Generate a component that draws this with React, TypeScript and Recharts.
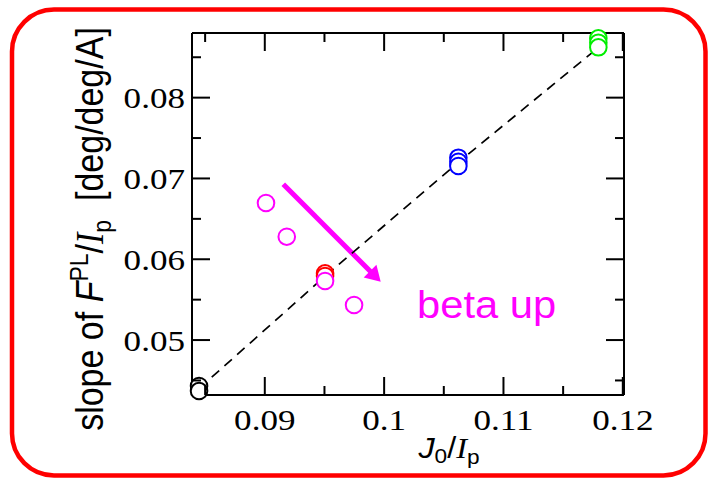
import React from "react";
import { ScatterChart, Scatter, XAxis, YAxis, ReferenceLine } from "recharts";

// Measured groups: x = J0/Ip, y = slope of F^PL/Ip
const blackPts = [
  { x: 0.08449, y: 0.04431 },
  { x: 0.08449, y: 0.04369 },
];
const redPts = [
  { x: 0.09505, y: 0.05826 },
  { x: 0.09505, y: 0.05793 },
];
const magentaPts = [
  { x: 0.0901, y: 0.06696 },
  { x: 0.09184, y: 0.06279 },
  { x: 0.09505, y: 0.05731 },
  { x: 0.09748, y: 0.05434 },
];
const bluePts = [
  { x: 0.10622, y: 0.07257 },
  { x: 0.10622, y: 0.07207 },
  { x: 0.10622, y: 0.07154 },
];
const greenPts = [
  { x: 0.11795, y: 0.08734 },
  { x: 0.11795, y: 0.0868 },
  { x: 0.11795, y: 0.08623 },
];
// Dashed trend line through the group centres
const trendPts = [
  { x: 0.08449, y: 0.044 },
  { x: 0.09505, y: 0.0579 },
  { x: 0.10622, y: 0.072 },
  { x: 0.11795, y: 0.0862 },
];
// "beta up" arrow, start and tip
const arrowPts = [
  { x: 0.09155, y: 0.06928 },
  { x: 0.09971, y: 0.05722 },
];

const xDomain = [0.0839, 0.1201];
const yDomain = [0.0432, 0.088];
const xMajorTicks = [0.09, 0.1, 0.11, 0.12];
const xMinorTicks = [0.085, 0.095, 0.105, 0.115];
const xTickLabels = ["0.09", "0.1", "0.11", "0.12"];
const yMajorTicks = [0.05, 0.06, 0.07, 0.08];
const yMinorTicks = [0.045, 0.055, 0.065, 0.075, 0.085];
const yTickLabels = ["0.05", "0.06", "0.07", "0.08"];

const xTicks = [...xMinorTicks, ...xMajorTicks].sort((a, b) => a - b);
const yTicks = [...yMinorTicks, ...yMajorTicks].sort((a, b) => a - b);

const W = 708;
const H = 478;
const MAJOR = 18;
const MINOR = 9;
const SERIF = "'Liberation Serif', 'Times New Roman', serif";
const SANS = "'Liberation Sans', Arial, sans-serif";
const SX = 1.15;

const serifStyle = { fontFamily: SERIF };
const sansStyle = { fontFamily: SANS };

const tickLen = (v: number, majors: number[]) => (majors.includes(v) ? MAJOR : MINOR);

const BottomTick = (p: any) => {
  const v = p.payload.value;
  const i = xMajorTicks.indexOf(v);
  return (
    <g>
      <line x1={p.x} x2={p.x} y1={p.y} y2={p.y - tickLen(v, xMajorTicks)} stroke="#000" strokeWidth={2} />
      {i >= 0 && (
        <text
          transform={`translate(${p.x} ${p.y + 34.5}) scale(${SX} 1)`}
          textAnchor="middle"
          style={serifStyle}
          fontSize={30.5}
          fill="#000"
        >
          {xTickLabels[i]}
        </text>
      )}
    </g>
  );
};

const TopTick = (p: any) => {
  const v = p.payload.value;
  return <line x1={p.x} x2={p.x} y1={p.y} y2={p.y + tickLen(v, xMajorTicks)} stroke="#000" strokeWidth={2} />;
};

const LeftTick = (p: any) => {
  const v = p.payload.value;
  const i = yMajorTicks.indexOf(v);
  return (
    <g>
      <line x1={p.x} x2={p.x + tickLen(v, yMajorTicks)} y1={p.y} y2={p.y} stroke="#000" strokeWidth={2} />
      {i >= 0 && (
        <text
          transform={`translate(${p.x - 7} ${p.y + 10.5}) scale(${SX} 1)`}
          textAnchor="end"
          style={serifStyle}
          fontSize={30.5}
          fill="#000"
        >
          {yTickLabels[i]}
        </text>
      )}
    </g>
  );
};

const RightTick = (p: any) => {
  const v = p.payload.value;
  return <line x1={p.x} x2={p.x - tickLen(v, yMajorTicks)} y1={p.y} y2={p.y} stroke="#000" strokeWidth={2} />;
};

const ring = (color: string) => (p: any) =>
  <circle cx={p.cx} cy={p.cy} r={8.3} fill="#fff" stroke={color} strokeWidth={2} />;

const noMarker = () => <g />;

const ArrowShape = (p: any) => {
  const { x1, y1, x2, y2 } = p;
  const dx = x2 - x1;
  const dy = y2 - y1;
  const len = Math.hypot(dx, dy);
  const ux = dx / len;
  const uy = dy / len;
  const headL = 15;
  const headW = 9;
  const bx = x2 - ux * headL;
  const by = y2 - uy * headL;
  const pts = `${x2},${y2} ${bx - uy * headW},${by + ux * headW} ${bx + uy * headW},${by - ux * headW}`;
  return (
    <g>
      <line x1={x1} y1={y1} x2={bx + ux * 2} y2={by + uy * 2} stroke="#ff00ff" strokeWidth={5} />
      <polygon points={pts} fill="#ff00ff" />
    </g>
  );
};

const axisLine = { stroke: "#000", strokeWidth: 2 };

export default function App() {
  return (
    <div style={{ position: "absolute", left: 0, top: 0, width: W, height: H, background: "#fff" }}>
      <ScatterChart width={W} height={H} margin={{ top: 23, right: 74, bottom: 43, left: 132 }}>
        <XAxis
          xAxisId="b"
          type="number"
          dataKey="x"
          domain={xDomain}
          ticks={xTicks}
          interval={0}
          tickSize={0}
          tickMargin={0}
          tickLine={false}
          axisLine={axisLine}
          tick={BottomTick}
          height={40}
        />
        <XAxis
          xAxisId="t"
          orientation="top"
          type="number"
          dataKey="x"
          domain={xDomain}
          allowDataOverflow
          ticks={xTicks}
          interval={0}
          tickSize={0}
          tickMargin={0}
          tickLine={false}
          axisLine={axisLine}
          tick={TopTick}
          height={10}
        />
        <YAxis
          yAxisId="l"
          type="number"
          dataKey="y"
          domain={yDomain}
          ticks={yTicks}
          interval={0}
          tickSize={0}
          tickMargin={0}
          tickLine={false}
          axisLine={axisLine}
          tick={LeftTick}
          width={60}
        />
        <YAxis
          yAxisId="r"
          orientation="right"
          type="number"
          dataKey="y"
          domain={yDomain}
          allowDataOverflow
          ticks={yTicks}
          interval={0}
          tickSize={0}
          tickMargin={0}
          tickLine={false}
          axisLine={axisLine}
          tick={RightTick}
          width={10}
        />
        <Scatter
          xAxisId="b"
          yAxisId="l"
          data={trendPts}
          shape={noMarker}
          line={{ stroke: "#000", strokeWidth: 1.7, strokeDasharray: "10 7" }}
          isAnimationActive={false}
        />
        <ReferenceLine xAxisId="b" yAxisId="l" segment={arrowPts} shape={ArrowShape} />
        <Scatter xAxisId="b" yAxisId="l" data={blackPts} shape={ring("#000")} isAnimationActive={false} />
        <Scatter xAxisId="b" yAxisId="l" data={redPts} shape={ring("#ff0000")} isAnimationActive={false} />
        <Scatter xAxisId="b" yAxisId="l" data={magentaPts} shape={ring("#ff00ff")} isAnimationActive={false} />
        <Scatter xAxisId="b" yAxisId="l" data={bluePts} shape={ring("#0000ff")} isAnimationActive={false} />
        <Scatter xAxisId="b" yAxisId="l" data={greenPts} shape={ring("#00ee00")} isAnimationActive={false} />
      </ScatterChart>
      <svg
        width={W}
        height={H}
        style={{ position: "absolute", left: 0, top: 0, pointerEvents: "none" }}
      >
        <rect x={12} y={9.5} width={693.5} height={466} rx={42} ry={42} fill="none" stroke="#ff0000" strokeWidth={4.5} />
        <text
          transform={`translate(103 229) scale(${SX} 1) rotate(-90)`}
          textAnchor="middle"
          style={sansStyle}
          fontSize={34}
          fill="#000"
        >
          <tspan>slope of </tspan>
          <tspan fontStyle="italic">F</tspan>
          <tspan fontSize={23} dy={-13}>PL</tspan>
          <tspan dy={13}>/</tspan>
          <tspan style={serifStyle} fontStyle="italic">I</tspan>
          <tspan fontSize={23} dy={7}>p</tspan>
          <tspan dy={-7}>{"\u00a0\u00a0[deg/deg/A]"}</tspan>
        </text>
        <text
          transform={`translate(449 458) scale(1.08 1)`}
          textAnchor="middle"
          style={sansStyle}
          fontSize={30}
          fill="#000"
        >
          <tspan fontStyle="italic">J</tspan>
          <tspan fontSize={21} dy={5}>0</tspan>
          <tspan dy={-5}>/</tspan>
          <tspan style={serifStyle} fontStyle="italic">I</tspan>
          <tspan fontSize={21} dy={6}>p</tspan>
        </text>
        <text
          transform={`translate(417 318) scale(1.07 1)`}
          style={sansStyle}
          fontSize={39}
          fill="#ff00ff"
        >
          beta up
        </text>
      </svg>
    </div>
  );
}
